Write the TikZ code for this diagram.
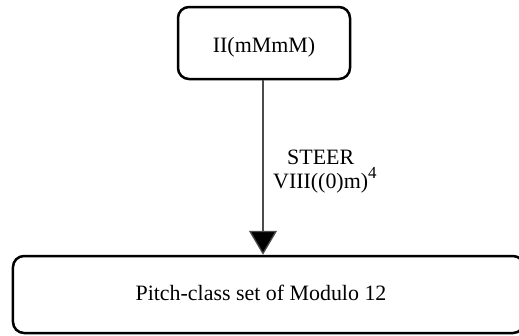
\documentclass[tikz,border=0pt]{standalone}
\usepackage{fontspec}
\setmainfont{Liberation Serif}
\usetikzlibrary{arrows.meta}
\begin{document}
\begin{tikzpicture}[x=1bp,y=-1bp,
  box/.style={draw, line width=2.5bp, rounded corners=11bp, inner sep=0pt},
  txt/.style={font=\fontsize{22}{24}\selectfont, inner sep=0pt},
  conn/.style={draw=black!70, line width=1.3bp, -{Triangle[width=28bp,length=24bp,fill=black]}},
  lbl/.style={align=center, font=\fontsize{22}{24}\selectfont, inner sep=0pt}]
\useasboundingbox (0,0) rectangle (519,335);
\node[box, minimum width=172bp, minimum height=72bp] (top) at (264,43) {};
\node[txt, anchor=base] (toptxt) at (264,52) {II(mMmM)};
\node[box, minimum width=511bp, minimum height=77bp] (bot) at (268.5,294.5) {};
\node[txt, anchor=base] (bottxt) at (261,300) {Pitch-class set of Modulo 12};
\draw[conn] (top.south -| 263,0) -- (bot.north -| 263,0);
\node[lbl, anchor=north west] (lab) at (273,150) {STEER\\VIII((0)m)\rlap{\raisebox{0.45em}{\fontsize{17}{18}\selectfont 4}}};
\end{tikzpicture}
\end{document}
